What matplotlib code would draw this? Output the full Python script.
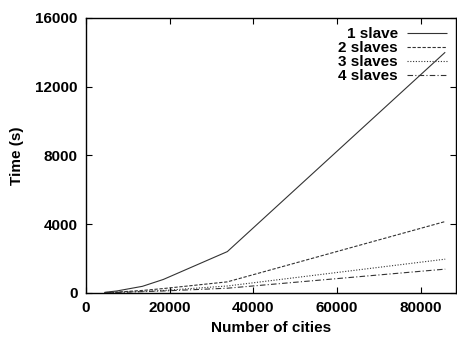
import matplotlib
matplotlib.use("Agg")
import matplotlib.pyplot as plt

plt.rcParams['font.family'] = ['Liberation Sans', 'DejaVu Sans']

# problem sizes (cities) and run times (s)
cities = [4461, 7397, 13509, 18512, 33810, 85900]
t1 = [30, 110, 380, 780, 2400, 14000]
t2 = [15, 45, 140, 250, 640, 4150]
t3 = [10, 30, 85, 140, 400, 1960]
t4 = [8, 25, 70, 110, 270, 1380]

labels = ['1 slave', '2 slaves', '3 slaves', '4 slaves']
series = [t1, t2, t3, t4]
styles = [(0, ()), (0, (3, 1.5)), (0, (1, 1.5)), (0, (5, 2, 1, 2))]

fig = plt.figure(figsize=(4.57, 3.37), dpi=100)
ax = fig.add_axes([0.188, 0.131, 0.81, 0.816])

for ys, lab, ls in zip(series, labels, styles):
    ax.plot(cities, ys, color='0.2', lw=0.8, linestyle=ls, label=lab)

ax.set_xlim(0, 88500)
ax.set_ylim(0, 16000)
ax.set_xticks([0, 20000, 40000, 60000, 80000])
ax.set_yticks([0, 4000, 8000, 12000, 16000])
ax.tick_params(direction='in', length=4, width=0.8, top=True, right=True,
               labelsize=11, pad=6)
for s in ax.spines.values():
    s.set_linewidth(1.0)
for t in ax.get_xticklabels() + ax.get_yticklabels():
    t.set_fontweight('bold')

ax.set_xlabel('Number of cities', fontsize=11, fontweight='bold', labelpad=4)
ax.set_ylabel('Time (s)', fontsize=11, fontweight='bold', labelpad=8)

leg = ax.legend(loc='upper right', markerfirst=False, frameon=False,
                fontsize=11, handlelength=2.6, labelspacing=0.0,
                handletextpad=0.6, borderaxespad=0.2)
for t in leg.get_texts():
    t.set_fontweight('bold')

fig.savefig('out.png', dpi=100)
